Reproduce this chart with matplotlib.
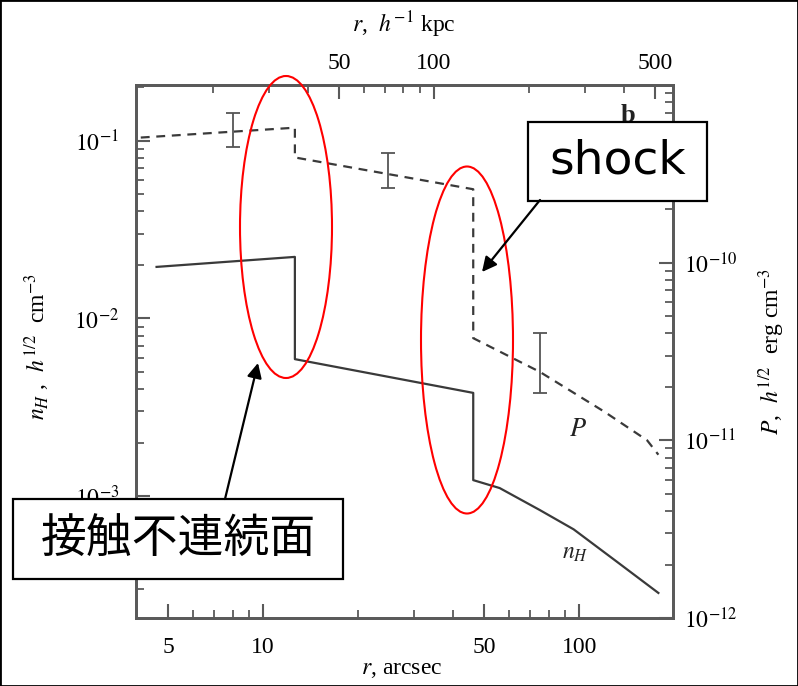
import matplotlib
matplotlib.use('Agg')
import matplotlib.pyplot as plt
from matplotlib.patches import Ellipse, Rectangle, FancyArrowPatch
from matplotlib.ticker import FixedLocator, FixedFormatter, NullFormatter

plt.rcParams['font.family'] = ['Liberation Serif', 'DejaVu Serif']
plt.rcParams['mathtext.fontset'] = 'stix'

# hydrogen density, r in arcsec (left axis)
r_n = [4.6, 12.6, 12.6, 46.2, 46.2, 56, 75, 96, 130, 178]
n_h = [0.0195, 0.0222, 0.0059, 0.00381, 0.00123, 0.00111, 0.000835, 0.00065, 0.000434, 0.000285]

# pressure (right axis)
r_p = [4.1, 12.6, 12.6, 46.2, 46.2, 75, 120, 164, 178]
p = [5.06e-10, 5.75e-10, 3.91e-10, 2.59e-10, 3.76e-11, 2.43e-11, 1.45e-11, 1.0e-11, 8.3e-12]

# pressure error bars
r_err = [8.0, 24.8, 75.2]
p_mid = [5.6e-10, 3.3e-10, 2.73e-11]
p_lo = [4.5e-10, 2.63e-10, 1.85e-11]
p_hi = [6.98e-10, 4.12e-10, 4.01e-11]

kpc_per_arcsec = 2.88

W, H = 798, 686
fig = plt.figure(figsize=(W / 100, H / 100), dpi=100)


def fp(x, y):
    # pixel (from top-left) -> figure fraction
    return (x / W, 1 - y / H)


ax = fig.add_axes([136 / W, 1 - 618 / H, (673 - 136) / W, (618 - 85) / H])
line_c = '#3a3a3a'
spine_c = '#5a5a5a'

ax.plot(r_n, n_h, color=line_c, lw=1.6)
ax.set_xscale('log')
ax.set_yscale('log')
ax.set_xlim(3.96, 198)
ax.set_ylim(2.06e-4, 2.06e-1)

ax2 = ax.twinx()
ax2.set_yscale('log')
ax2.plot(r_p, p, color=line_c, lw=1.6, ls=(0, (4, 3)))
yerr = [[m - lo for m, lo in zip(p_mid, p_lo)], [hi - m for m, hi in zip(p_mid, p_hi)]]
ax2.errorbar(r_err, p_mid, yerr=yerr, fmt='none', ecolor='#555555', elinewidth=1.3, capsize=5, capthick=1.3)
ax2.set_ylim(1e-12, 1e-9)

for a in (ax, ax2):
    for s in a.spines.values():
        s.set_color(spine_c)
        s.set_linewidth(2)

ax.xaxis.set_major_locator(FixedLocator([5, 10, 50, 100]))
ax.xaxis.set_major_formatter(FixedFormatter(['5', '10', '50', '100']))
ax.xaxis.set_minor_locator(FixedLocator([6, 7, 8, 9, 20, 30, 40, 60, 70, 80, 90]))
ax.xaxis.set_minor_formatter(NullFormatter())

ax.yaxis.set_major_locator(FixedLocator([1e-3, 1e-2, 1e-1]))
ax.yaxis.set_major_formatter(FixedFormatter([r'$10^{-3}$', r'$10^{-2}$', r'$10^{-1}$']))
ax2.yaxis.set_major_locator(FixedLocator([1e-12, 1e-11, 1e-10]))
ax2.yaxis.set_major_formatter(FixedFormatter([r'$10^{-12}$', r'$10^{-11}$', r'$10^{-10}$']))

for a in (ax, ax2):
    a.tick_params(which='major', direction='in', length=10, width=1.5, color=spine_c, labelsize=17, pad=8)
    a.tick_params(which='minor', direction='in', length=6, width=1.3, color=spine_c)
ax.tick_params(axis='x', which='both', top=False, pad=14)
ax.tick_params(axis='y', pad=12)

secax = ax.secondary_xaxis('top', functions=(lambda x: x * kpc_per_arcsec, lambda x: x / kpc_per_arcsec))
secax.xaxis.set_major_locator(FixedLocator([50, 100, 500]))
secax.xaxis.set_major_formatter(FixedFormatter(['50', '100', '500']))
secax.xaxis.set_minor_locator(FixedLocator([20, 30, 40, 60, 70, 80, 90, 200, 300, 400]))
secax.xaxis.set_minor_formatter(NullFormatter())
secax.tick_params(which='major', direction='in', length=10, width=1.5, color=spine_c, labelsize=17, pad=8)
secax.tick_params(which='minor', direction='in', length=6, width=1.3, color=spine_c)
secax.spines['top'].set_color(spine_c)
secax.spines['top'].set_linewidth(2)

ax.set_xlabel(r'$r$, arcsec', fontsize=17)
ax.xaxis.set_label_coords(0.494, -0.076)
fig.text(*fp(404, 25), r'$r$,  $h^{-1}$ kpc', fontsize=17, ha='center', va='center')
ax.set_ylabel(r'$n_H$ ,  $h^{1/2}$  cm$^{-3}$', fontsize=17)
ax.yaxis.set_label_coords(-0.156, 0.51)
ax2.set_ylabel(r'$P$,  $h^{1/2}$  erg cm$^{-3}$', fontsize=17, rotation=90)
ax2.yaxis.set_label_coords(1.155, 0.5)

ax2.text(99, 1.15e-11, r'$P$', fontsize=19, color='#222222', ha='center', va='center')
ax.text(97, 4.74e-4, r'$n_H$', fontsize=17, color='#222222', ha='center', va='center')
ax.text(143, 0.138, 'b', fontsize=19, fontweight='bold', color='#222222', ha='center', va='center')

# annotations added on top of the scanned figure
for cx, cy, w, h in [(286, 227, 92, 302), (467, 340, 92, 347)]:
    fig.add_artist(Ellipse(fp(cx, cy), w / W, h / H, transform=fig.transFigure,
                           fill=False, ec='red', lw=1.5, zorder=10))

for x0, y0, x1, y1 in [(528, 122, 707, 201), (13, 499, 343, 579)]:
    fig.add_artist(Rectangle(fp(x0, y1), (x1 - x0) / W, (y1 - y0) / H, transform=fig.transFigure,
                             fc='white', ec='black', lw=1.6, zorder=11))

fig.text(*fp(617.5, 161.5), 'shock', fontsize=34, family='DejaVu Sans', ha='center', va='center', zorder=12)
fig.text(*fp(178, 539), '接触不連続面', fontsize=33, family=['Noto Sans CJK JP', 'DejaVu Sans'],
         ha='center', va='center', zorder=12)

for (xa, ya), (xb, yb) in [((540, 200), (482, 272)), ((225, 499), (258, 363))]:
    fig.add_artist(FancyArrowPatch(fp(xa, ya), fp(xb, yb), transform=fig.transFigure,
                                   arrowstyle='-|>', mutation_scale=22, color='black', lw=1.6,
                                   shrinkA=0, shrinkB=0, zorder=12))

fig.add_artist(Rectangle((0, 0), 1, 1, transform=fig.transFigure, fill=False, ec='black', lw=2, zorder=20))

fig.savefig('out.png', dpi=100)
